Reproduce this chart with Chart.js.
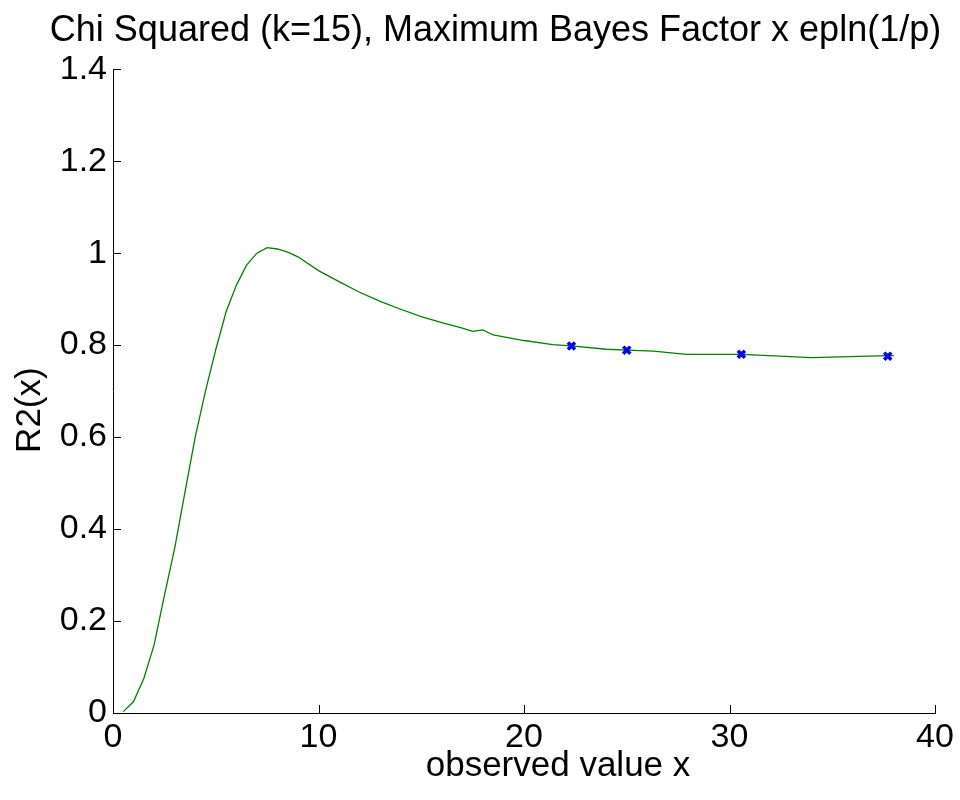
<!DOCTYPE html>
<html>
<head>
<meta charset="utf-8">
<script src="https://cdn.jsdelivr.net/npm/chart.js@4/dist/chart.umd.min.js"></script>
<style>
  html, body { margin: 0; padding: 0; background: #ffffff; }
  #wrap { width: 960px; height: 800px; }
</style>
</head>
<body>
<div id="wrap"><canvas id="c" width="960" height="800"></canvas></div>
<script>
// ---- data ----
const curveX = [0.5, 1.0, 1.5, 2.0, 2.5, 3.0, 3.5, 4.0, 4.5, 5.0, 5.5, 6.0, 6.5, 7.0, 7.5, 8.0, 8.5, 9.0,
                10, 11, 12, 13, 14, 15, 16, 17, 17.5, 18.0, 18.5, 20.0, 21.4, 22.3, 24.0, 25.0, 26.3, 27.9, 30.6, 34.0, 37.7, 38.0];
const curveY = [0.003, 0.025, 0.075, 0.148, 0.255, 0.358, 0.480, 0.600, 0.700, 0.790, 0.872, 0.930, 0.974, 1.000, 1.012, 1.009, 1.002, 0.992,
                0.962, 0.938, 0.915, 0.895, 0.878, 0.862, 0.849, 0.837, 0.830, 0.833, 0.822, 0.810, 0.801, 0.7985, 0.791, 0.789, 0.787, 0.780, 0.780, 0.773, 0.777, 0.777];
const markerX = [22.31, 25.00, 30.58, 37.70];
const markerY = [0.798, 0.789, 0.780, 0.776];
const xTickLabels = ["0", "10", "20", "30", "40"];
const yTickLabels = ["0", "0.2", "0.4", "0.6", "0.8", "1", "1.2", "1.4"];
const titleText = "Chi Squared (k=15), Maximum Bayes Factor x epln(1/p)";
const xTitle = "observed value x";
const yTitle = "R2(x)";

const FONT = "'Liberation Sans', Arial, Helvetica, sans-serif";

const curvePts = curveX.map((x, i) => ({ x: x, y: curveY[i] }));
const markerPts = markerX.map((x, i) => ({ x: x, y: markerY[i] }));

// draw inward tick marks like the original
const inwardTicks = {
  id: 'inwardTicks',
  afterDatasetsDraw(chart) {
    const ctx = chart.ctx;
    const xs = chart.scales.x, ys = chart.scales.y;
    const area = chart.chartArea;
    const len = 8;
    ctx.save();
    ctx.strokeStyle = '#000000';
    ctx.lineWidth = 1;
    ctx.beginPath();
    ys.ticks.forEach(t => {
      const py = Math.round(ys.getPixelForValue(t.value)) + 0.5;
      ctx.moveTo(area.left, py);
      ctx.lineTo(area.left + len, py);
    });
    xs.ticks.forEach(t => {
      const px = Math.round(xs.getPixelForValue(t.value)) + 0.5;
      ctx.moveTo(px, area.bottom);
      ctx.lineTo(px, area.bottom - len);
    });
    ctx.stroke();
    ctx.restore();
  }
};

// nudge the title boxes to where the original figure places them
const titleOffsets = {
  id: 'titleOffsets',
  afterLayout(chart) {
    const tb = chart.titleBlock;
    if (tb) { tb.left += 28; tb.right += 28; }
    const shift = (scale, dx, dy) => {
      if (!scale || scale._shiftPatched) return;
      const orig = scale.drawTitle;
      scale.drawTitle = function () {
        const ctx = this.ctx;
        ctx.save();
        ctx.translate(dx, dy);
        orig.apply(this, arguments);
        ctx.restore();
      };
      scale._shiftPatched = true;
    };
    shift(chart.scales.x, 34, 0);
    shift(chart.scales.y, 0, 19);
  }
};

new Chart(document.getElementById('c'), {
  type: 'scatter',
  data: {
    datasets: [
      {
        label: 'markers',
        data: markerPts,
        showLine: false,
        pointStyle: 'crossRot',
        pointRadius: 5,
        pointBorderWidth: 3.5,
        pointBorderColor: '#0000ff',
        pointBackgroundColor: '#0000ff',
        order: 0
      },
      {
        label: 'R2',
        data: curvePts,
        showLine: true,
        borderColor: '#008000',
        borderWidth: 1.3,
        pointRadius: 0,
        tension: 0,
        fill: false,
        order: 1
      }
    ]
  },
  options: {
    responsive: false,
    animation: false,
    devicePixelRatio: 1,
    layout: { padding: { left: 0, right: 25, top: 0, bottom: 0 } },
    plugins: {
      legend: { display: false },
      tooltip: { enabled: false },
      title: {
        display: true,
        text: titleText,
        color: '#000000',
        font: { family: FONT, size: 36, weight: 'normal', lineHeight: 1.2 },
        padding: { top: 9, bottom: 17 }
      }
    },
    scales: {
      x: {
        type: 'linear',
        min: 0, max: 40,
        border: { display: true, color: '#000000', width: 1 },
        grid: { display: false, drawTicks: false },
        ticks: {
          stepSize: 10,
          padding: 4,
          color: '#000000',
          font: { family: FONT, size: 34 },
          maxRotation: 0,
          callback: (v) => xTickLabels[Math.round(v / 10)]
        },
        title: {
          display: true,
          text: xTitle,
          color: '#000000',
          font: { family: FONT, size: 35, lineHeight: 1.2 },
          padding: { top: 0, bottom: 13 }
        },
        afterFit: (s) => { s.height = 87; }
      },
      y: {
        type: 'linear',
        min: 0, max: 1.4,
        border: { display: true, color: '#000000', width: 1 },
        grid: { display: false, drawTicks: false },
        ticks: {
          stepSize: 0.2,
          padding: 6,
          color: '#000000',
          font: { family: FONT, size: 34 },
          callback: (v) => yTickLabels[Math.round(v / 0.2)]
        },
        title: {
          display: true,
          text: yTitle,
          color: '#000000',
          font: { family: FONT, size: 35, lineHeight: 1.2 },
          padding: { top: 9, bottom: 0 }
        },
        afterFit: (s) => { s.width = 113; }
      }
    }
  },
  plugins: [inwardTicks, titleOffsets]
});
</script>
</body>
</html>
